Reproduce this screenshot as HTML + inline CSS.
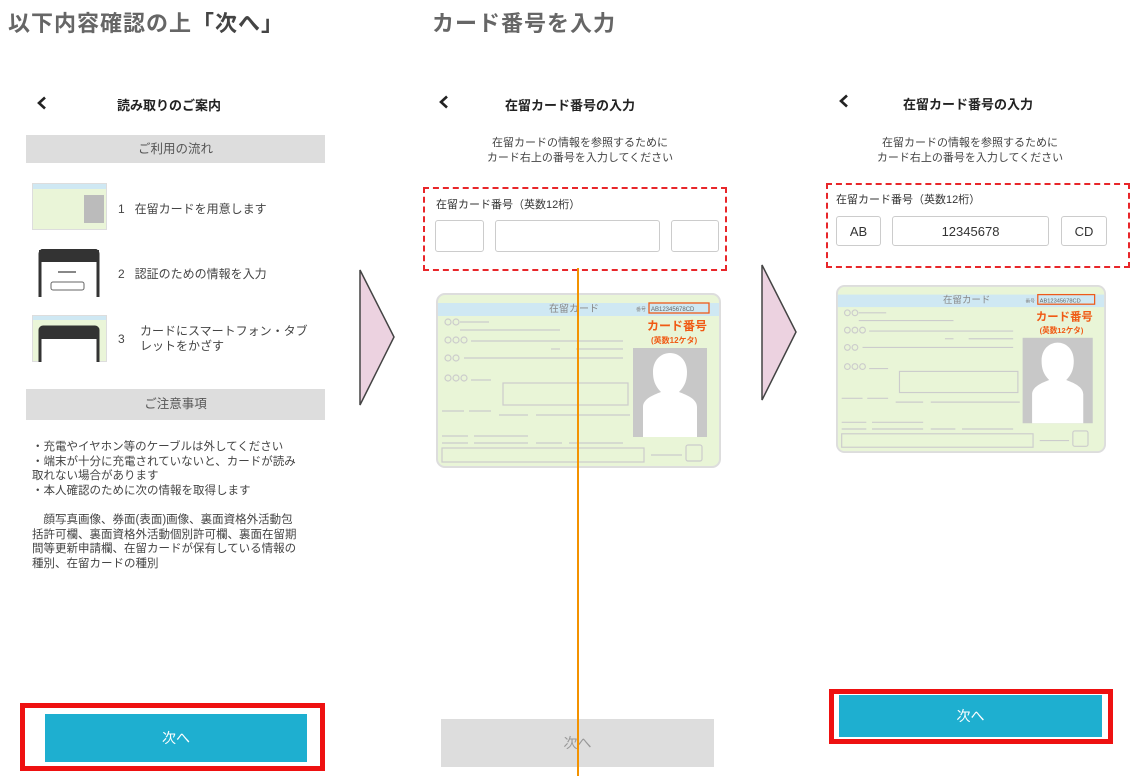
<!DOCTYPE html>
<html><head><meta charset="utf-8">
<style>
*{margin:0;padding:0;box-sizing:border-box}
body{width:1142px;height:776px;background:#fff;position:relative;overflow:hidden;font-family:"Liberation Sans","Noto Sans CJK JP",sans-serif;color:#333}
.a{position:absolute;white-space:nowrap}
.h{font-size:22px;font-weight:bold;color:#666;letter-spacing:1px}
.t{font-size:13px;font-weight:bold;color:#222}
.s{font-size:11.5px;color:#444}
.bar{position:absolute;background:#ddd;color:#555;font-size:12.5px;text-align:center}
.inp{position:absolute;border:1px solid #ccc;border-radius:3px;font-size:13px;color:#333;display:flex;align-items:center;justify-content:center}
.dash{position:absolute;border:2px dashed #e8262a}
</style></head><body>
<div class="a h" style="left:8px;top:6px">以下内容確認の上<span style="color:#444">「次へ」</span></div>
<div class="a h" style="left:432px;top:6px">カード番号を入力</div>

<!-- panel 1 -->
<svg class="a" style="left:36px;top:96px" width="12" height="14"><polyline points="9,1.5 3,7 9,12.5" fill="none" stroke="#222" stroke-width="2.6"/></svg>
<div class="a t" style="left:117px;top:95px">読み取りのご案内</div>
<div class="bar" style="left:26px;top:135px;width:299px;height:28px;line-height:28px">ご利用の流れ</div>
<svg class="a" style="left:32px;top:183px" width="75" height="47"><rect x="0.5" y="0.5" width="74" height="46" fill="#eaf5d8" stroke="#ddd"/><rect x="1" y="1" width="73" height="5" fill="#cfe8f3"/><rect x="52" y="12" width="20" height="28" fill="#bbb"/></svg>
<div class="a s" style="left:118px;top:200px;font-size:12px">1 &nbsp; 在留カードを用意します</div>
<svg class="a" style="left:38px;top:249px" width="62" height="48"><path d="M2 48V5a4 4 0 0 1 4-4h50a4 4 0 0 1 4 4v43" fill="#fff" stroke="#333" stroke-width="3"/><rect x="1" y="1" width="60" height="12" fill="#333"/><rect x="13" y="33" width="33" height="8" rx="2" fill="#fff" stroke="#666"/><rect x="20" y="22" width="18" height="2" fill="#888"/></svg>
<div class="a s" style="left:118px;top:265px;font-size:12px">2 &nbsp; 認証のための情報を入力</div>
<svg class="a" style="left:32px;top:315px" width="75" height="47"><rect x="0.5" y="0.5" width="74" height="46" fill="#eaf5d8" stroke="#ddd"/><rect x="1" y="1" width="73" height="4" fill="#cfe8f3"/><path d="M8 47V15a3 3 0 0 1 3-3h52a3 3 0 0 1 3 3v32" fill="#fff" stroke="#333" stroke-width="3"/><rect x="8" y="12" width="58" height="12" fill="#333"/></svg>
<div class="a s" style="left:118px;top:332px;font-size:12px">3</div>
<div class="a s" style="left:140px;top:324px;font-size:12px;line-height:15px">カードにスマートフォン・タブ<br>レットをかざす</div>
<div class="bar" style="left:26px;top:389px;width:299px;height:31px;line-height:31px">ご注意事項</div>
<div class="a s" style="left:32px;top:440px;line-height:14.6px">・充電やイヤホン等のケーブルは外してください<br>・端末が十分に充電されていないと、カードが読み<br>取れない場合があります<br>・本人確認のために次の情報を取得します<br><br>　顔写真画像、券面(表面)画像、裏面資格外活動包<br>括許可欄、裏面資格外活動個別許可欄、裏面在留期<br>間等更新申請欄、在留カードが保有している情報の<br>種別、在留カードの種別</div>
<div class="a" style="left:20px;top:703px;width:305px;height:68px;border:5px solid #ee1111"></div>
<div class="a" style="left:45px;top:714px;width:262px;height:48px;background:#1eafd0;color:#fff;font-size:14px;line-height:48px;text-align:center">次へ</div>

<!-- arrows -->
<svg class="a" style="left:358px;top:268px" width="40" height="140"><polygon points="2,2 36,69 2,137" fill="#ecd2e0" stroke="#444" stroke-width="1.5"/></svg>
<svg class="a" style="left:760px;top:263px" width="40" height="140"><polygon points="2,2 36,69 2,137" fill="#ecd2e0" stroke="#444" stroke-width="1.5"/></svg>

<svg width="0" height="0" style="position:absolute"><defs>
<g id="card">
<rect x="1" y="1" width="283" height="173" rx="8" fill="#e9f5d7" stroke="#ddd" stroke-width="2"/>
<rect x="2" y="10" width="281" height="13" fill="#cfe8f3"/>
<text x="113" y="19" font-size="10" fill="#888" font-family="Liberation Sans,Noto Sans CJK JP,sans-serif">在留カード</text>
<text x="200" y="18" font-size="5" fill="#888" font-family="Liberation Sans,Noto Sans CJK JP,sans-serif">番号</text>
<rect x="213" y="10" width="60" height="10" fill="none" stroke="#ee5a1a" stroke-width="1.3"/>
<text x="215" y="18" font-size="6" fill="#666" font-family="Liberation Sans,sans-serif">AB12345678CD</text>
<text x="211" y="37" font-size="12" font-weight="bold" fill="#f05a14" font-family="Liberation Sans,Noto Sans CJK JP,sans-serif">カード番号</text>
<text x="215" y="50" font-size="8" font-weight="bold" fill="#f05a14" font-family="Liberation Sans,Noto Sans CJK JP,sans-serif">(英数12ケタ)</text>
<rect x="197" y="55" width="74" height="89" fill="#c8c8c8"/>
<path d="M207 144v-30c0-8 10-12 18-15c-6-6-8-12-8-20c0-12 8-19 17-19s17 7 17 19c0 8-2 14-8 20c8 3 18 7 18 15v30z" fill="#fff"/>
<g fill="none" stroke="#ccc" stroke-width="1.2">
<circle cx="12" cy="29" r="3"/><circle cx="20" cy="29" r="3"/><line x1="24" y1="29" x2="53" y2="29"/><line x1="24" y1="37" x2="124" y2="37"/>
<circle cx="12" cy="47" r="3"/><circle cx="20" cy="47" r="3"/><circle cx="28" cy="47" r="3"/><line x1="35" y1="48" x2="187" y2="48"/>
<line x1="115" y1="56" x2="124" y2="56"/><line x1="140" y1="56" x2="187" y2="56"/>
<circle cx="12" cy="65" r="3"/><circle cx="20" cy="65" r="3"/><line x1="28" y1="65" x2="187" y2="65"/>
<circle cx="12" cy="85" r="3"/><circle cx="20" cy="85" r="3"/><circle cx="28" cy="85" r="3"/><line x1="35" y1="87" x2="55" y2="87"/>
<rect x="67" y="90" width="125" height="22"/>
<line x1="6" y1="118" x2="28" y2="118"/><line x1="33" y1="118" x2="55" y2="118"/><line x1="63" y1="122" x2="92" y2="122"/><line x1="100" y1="122" x2="194" y2="122"/>
<line x1="6" y1="143" x2="32" y2="143"/><line x1="38" y1="143" x2="92" y2="143"/>
<line x1="6" y1="150" x2="32" y2="150"/><line x1="38" y1="150" x2="92" y2="150"/><line x1="100" y1="150" x2="126" y2="150"/><line x1="133" y1="150" x2="187" y2="150"/>
<rect x="6" y="155" width="202" height="14"/><line x1="215" y1="162" x2="246" y2="162"/><rect x="250" y="152" width="16" height="16" rx="2"/>
</g>
</g></defs></svg>

<!-- panel 2 -->
<svg class="a" style="left:438px;top:95px" width="12" height="14"><polyline points="9,1.5 3,7 9,12.5" fill="none" stroke="#222" stroke-width="2.6"/></svg>
<div class="a t" style="left:505px;top:95px">在留カード番号の入力</div>
<div class="a s" style="left:440px;top:136px;width:280px;text-align:center;font-size:11px;line-height:15px">在留カードの情報を参照するために<br>カード右上の番号を入力してください</div>
<div class="dash" style="left:423px;top:187px;width:304px;height:84px"></div>
<div class="a s" style="left:436px;top:196px;font-size:11px;color:#333">在留カード番号（英数12桁）</div>
<div class="inp" style="left:435px;top:220px;width:49px;height:32px"></div>
<div class="inp" style="left:495px;top:220px;width:165px;height:32px"></div>
<div class="inp" style="left:671px;top:220px;width:48px;height:32px"></div>
<svg class="a" style="left:436px;top:293px" width="285" height="175" viewBox="0 0 285 175"><use href="#card"/></svg>
<div class="a" style="left:441px;top:719px;width:273px;height:48px;background:#ddd;color:#999;font-size:14px;line-height:48px;text-align:center">次へ</div>
<div class="a" style="left:577px;top:268px;width:2px;height:508px;background:#f39200"></div>

<!-- panel 3 -->
<svg class="a" style="left:838px;top:94px" width="12" height="14"><polyline points="9,1.5 3,7 9,12.5" fill="none" stroke="#222" stroke-width="2.6"/></svg>
<div class="a t" style="left:903px;top:94px">在留カード番号の入力</div>
<div class="a s" style="left:832px;top:136px;width:276px;text-align:center;font-size:11px;line-height:14.5px">在留カードの情報を参照するために<br>カード右上の番号を入力してください</div>
<div class="dash" style="left:826px;top:183px;width:304px;height:85px"></div>
<div class="a s" style="left:836px;top:191px;font-size:11px;color:#333">在留カード番号（英数12桁）</div>
<div class="inp" style="left:836px;top:216px;width:45px;height:30px">AB</div>
<div class="inp" style="left:892px;top:216px;width:157px;height:30px">12345678</div>
<div class="inp" style="left:1061px;top:216px;width:46px;height:30px">CD</div>
<svg class="a" style="left:836px;top:285px" width="270" height="168" viewBox="0 0 285 175" preserveAspectRatio="none"><use href="#card"/></svg>
<div class="a" style="left:829px;top:689px;width:284px;height:55px;border:5px solid #ee1111"></div>
<div class="a" style="left:839px;top:695px;width:263px;height:42px;background:#1eafd0;color:#fff;font-size:14px;line-height:42px;text-align:center">次へ</div>
</body></html>
